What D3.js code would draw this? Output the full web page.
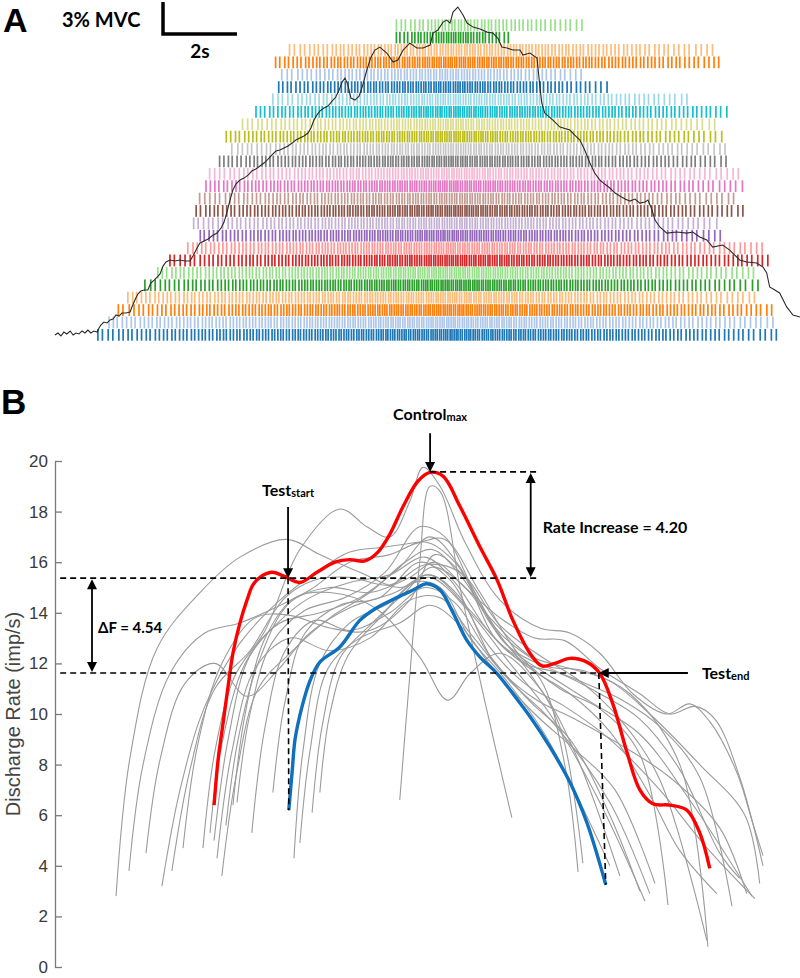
<!DOCTYPE html>
<html><head><meta charset="utf-8">
<script src="https://cdn.jsdelivr.net/npm/d3@7"></script>
<style>body{margin:0;background:#fff} svg{display:block}</style>
</head><body><svg id="c" width="800" height="978"></svg>
<script>
// ---------------- DATA ----------------
// Panel A: motor unit recruitment / derecruitment times (s), bottom row first
const unitOn  = [1.16,1.46,1.70,1.97,2.43,2.78,3.10,3.59,3.91,3.72,3.80,3.91,4.05,4.18,4.45,4.78,4.61,5.07,5.42,5.88,6.02,6.13,5.96,6.34,9.23,9.23];
const unitOff = [19.56,19.48,19.48,19.08,19.02,19.02,19.29,19.29,18.00,18.00,18.62,18.48,18.62,18.48,18.16,18.21,18.11,17.94,18.21,17.13,15.03,14.38,18.00,17.94,12.36,14.38];
// discharge rates (imp/s) at recruitment, at force peak, at derecruitment
const unitRateStart = [7,8,7,8,7,8,7,8,8,7,8,7,8,7,8,7,8,7,8,7,8,7,8,7,9,7];
const unitRatePeak  = [18,17,18,16,18,17,17,16,17,15,17,15,17,15,16,15,17,15,17,15,16,14,17,14,16,12];
const unitRateEnd   = [6,6,7,6,6,6,7,6,6,6,7,6,6,6,7,6,6,6,7,6,6,6,7,6,8,6];
const ratePeakTime = 10.8;
// relative inter-spike-interval variability, read as a repeating pattern
const isiVariability = [1.00,0.86,1.12,0.94,1.21,0.90,1.05,0.83,1.16,0.97,1.08,0.88,1.25,0.95,1.02,0.91,1.14,0.85,1.10,0.99,0.93,1.19,0.87,1.06];
// force trace [time s, %MVC]
const forceTrace = [[0.00,0.09],[0.08,0.28],[0.16,0.00],[0.24,0.37],[0.32,0.19],[0.41,0.47],[0.49,0.09],[0.57,0.28],[0.65,0.19],[0.73,0.47],[0.81,0.28],[0.89,0.56],[0.97,0.28],[1.05,0.47],[1.14,0.37],[1.19,0.75],[1.24,1.03],[1.32,1.31],[1.41,1.22],[1.49,1.50],[1.57,1.59],[1.65,1.97],[1.73,1.87],[1.81,2.15],[1.92,2.15],[2.03,2.25],[2.08,2.72],[2.16,3.37],[2.24,3.93],[2.32,4.21],[2.41,4.31],[2.51,4.31],[2.59,4.96],[2.68,5.24],[2.76,5.52],[2.84,5.81],[2.92,6.55],[3.00,6.93],[3.11,7.12],[3.24,7.02],[3.38,7.12],[3.51,7.02],[3.65,7.02],[3.73,7.49],[3.84,8.24],[3.92,8.71],[4.03,8.90],[4.14,9.08],[4.24,9.36],[4.38,9.64],[4.49,10.11],[4.57,10.67],[4.65,11.61],[4.73,12.73],[4.81,13.67],[4.89,14.23],[5.00,14.61],[5.11,14.79],[5.22,15.07],[5.32,15.45],[5.43,15.64],[5.54,15.92],[5.65,16.20],[5.76,16.57],[5.86,16.95],[5.97,17.32],[6.08,17.42],[6.19,17.60],[6.30,17.79],[6.41,18.07],[6.51,18.35],[6.62,18.54],[6.73,18.73],[6.84,19.01],[6.92,19.48],[7.00,20.22],[7.08,20.69],[7.16,21.07],[7.27,21.35],[7.38,21.54],[7.49,22.00],[7.59,22.38],[7.68,23.03],[7.76,23.78],[7.84,24.16],[7.92,23.50],[8.00,22.28],[8.11,22.10],[8.22,22.47],[8.32,23.50],[8.43,24.91],[8.54,26.12],[8.65,26.78],[8.78,27.06],[8.97,26.50],[9.14,25.66],[9.27,25.84],[9.41,26.78],[9.59,27.43],[9.78,26.97],[9.95,26.97],[10.14,27.25],[10.22,28.37],[10.35,28.65],[10.49,29.40],[10.59,29.59],[10.68,29.31],[10.76,30.34],[10.89,30.81],[11.03,30.06],[11.14,29.31],[11.30,28.93],[11.49,28.75],[11.68,28.46],[11.84,28.37],[11.97,27.90],[12.08,27.06],[12.22,26.97],[12.38,26.78],[12.57,26.78],[12.65,26.31],[12.84,26.50],[13.03,26.03],[13.11,23.31],[13.16,21.82],[13.24,20.88],[13.46,20.22],[13.65,19.57],[13.92,19.29],[14.05,18.82],[14.19,18.35],[14.32,17.42],[14.46,16.20],[14.59,15.26],[14.73,14.61],[14.86,14.23],[15.00,13.86],[15.14,13.39],[15.27,13.11],[15.41,12.83],[15.54,12.64],[15.68,12.83],[15.81,12.45],[15.95,12.55],[16.03,12.73],[16.14,11.80],[16.22,10.86],[16.35,10.21],[16.54,9.64],[16.81,9.74],[17.08,9.64],[17.24,9.74],[17.43,9.27],[17.62,8.99],[17.78,8.33],[18.05,8.52],[18.24,8.05],[18.51,7.12],[18.70,6.93],[18.97,6.84],[19.14,6.46],[19.24,5.90],[19.32,4.59],[19.46,4.31],[19.59,4.03],[19.78,2.72],[19.95,1.97],[20.14,1.78]];

// Panel B: smoothed discharge rates [time s, imp/s]
const controlUnit = [[4.30,6.4],[4.41,8.2],[4.54,9.6],[4.68,11.1],[4.81,12.4],[5.00,13.6],[5.19,14.5],[5.35,15.1],[5.54,15.4],[5.86,15.6],[6.19,15.45],[6.62,15.2],[7.08,15.6],[7.57,16.0],[7.97,16.1],[8.38,16.05],[8.73,16.4],[9.05,17.1],[9.41,18.2],[9.81,19.2],[10.14,19.55],[10.49,19.4],[10.95,18.2],[11.49,16.6],[11.95,15.3],[12.38,13.7],[12.84,12.4],[13.16,11.9],[13.51,12.0],[13.92,12.2],[14.38,12.05],[14.73,11.6],[15.08,10.4],[15.46,8.5],[15.81,7.0],[16.16,6.45],[16.62,6.4],[17.08,6.2],[17.43,5.3],[17.70,3.9]];
const testUnit = [[6.32,6.2],[6.41,7.7],[6.49,9.0],[6.68,10.3],[6.89,11.3],[7.16,12.05],[7.70,12.65],[8.24,13.7],[8.70,14.2],[9.24,14.6],[9.68,14.9],[10.05,15.15],[10.41,14.9],[10.76,14.0],[11.14,12.9],[11.49,12.25],[11.95,11.6],[12.38,10.8],[12.84,9.9],[13.38,8.7],[13.92,7.3],[14.38,5.7],[14.89,3.25]];
const otherUnits = [
 [[1.65,2.8],[2.03,8.3],[2.76,12.6],[3.92,14.8],[5.00,16.2],[6.27,16.9],[7.16,16.3],[8.24,15.6],[9.32,15.0],[10.14,15.4],[11.22,14.0],[12.30,12.0],[13.38,10.0],[14.73,6.5],[15.95,2.6]],
 [[2.00,3.8],[2.38,8.0],[3.11,11.6],[4.05,13.2],[5.00,13.6],[5.95,14.2],[6.89,14.9],[7.97,16.0],[9.05,16.3],[10.00,16.8],[10.81,16.0],[11.76,13.6],[12.84,11.6],[13.65,9.5],[14.27,4.1]],
 [[2.46,4.5],[2.84,8.2],[3.51,11.2],[4.32,12.0],[5.19,10.7],[6.00,11.7],[6.89,13.2],[7.97,14.2],[9.19,14.8],[10.14,15.5],[11.08,14.3],[12.03,12.8],[13.11,11.4],[13.78,8.0],[14.14,3.75]],
 [[2.89,3.2],[3.38,7.0],[4.05,10.3],[5.00,12.8],[6.08,14.5],[7.16,15.7],[7.97,16.4],[8.92,16.6],[9.86,16.8],[10.54,16.9],[11.49,14.8],[12.57,12.3],[13.65,11.0],[14.73,10.2],[15.81,8.4],[16.57,2.45]],
 [[3.16,3.8],[3.65,7.8],[4.32,11.0],[5.27,12.5],[6.22,14.6],[7.03,15.3],[7.97,15.4],[9.05,15.1],[10.00,15.9],[10.95,15.6],[12.03,13.5],[13.11,12.3],[14.19,11.3],[15.27,9.8],[16.35,7.4],[17.62,1.05]],
 [[3.46,4.7],[3.86,8.8],[4.51,12.0],[5.41,13.8],[6.35,13.9],[7.43,13.4],[8.51,13.3],[9.59,14.5],[10.27,16.3],[11.08,15.4],[12.16,12.8],[13.24,11.9],[14.32,11.7],[15.54,10.8],[16.89,8.0],[17.65,0.8]],
 [[4.00,4.7],[4.32,8.5],[4.86,11.5],[5.68,13.3],[6.62,16.5],[7.70,18.1],[8.43,17.4],[9.05,17.0],[9.59,18.4],[9.95,19.75],[10.41,19.0],[11.08,16.8],[12.03,14.5],[13.11,13.4],[13.92,13.2],[14.73,12.4],[15.62,10.8],[16.54,10.0],[17.16,10.4],[17.70,9.7],[18.43,7.7],[18.86,5.7],[19.14,4.4]],
 [[9.32,6.6],[9.59,11.5],[9.86,16.0],[10.14,19.0],[10.41,18.8],[10.95,15.0],[11.62,10.5],[12.35,5.9]],
 [[4.30,5.0],[4.68,9.0],[5.27,12.3],[6.08,13.6],[7.16,14.0],[8.24,14.6],[9.32,15.8],[10.14,17.0],[10.95,15.8],[11.89,13.0],[12.84,11.8],[13.92,10.8],[15.00,9.3],[16.08,6.8],[16.89,4.6],[17.89,2.9]],
 [[4.38,4.3],[4.78,8.5],[5.41,11.8],[6.35,13.0],[7.43,12.5],[8.51,13.0],[9.59,14.5],[10.41,14.6],[11.22,13.2],[12.30,11.3],[13.38,9.8],[15.00,6.5],[16.08,2.9]],
 [[4.51,3.6],[4.89,7.5],[5.49,11.0],[6.35,12.4],[7.43,13.8],[8.51,14.8],[9.46,16.0],[10.19,16.5],[10.95,15.5],[12.03,13.2],[13.11,12.0],[14.19,11.3],[15.27,10.6],[16.35,9.5],[17.43,7.5],[18.30,2.4]],
 [[4.81,6.4],[5.14,10.0],[5.68,13.0],[6.49,14.6],[7.43,14.8],[8.65,14.2],[9.86,12.25],[10.62,10.55],[11.22,11.6],[12.03,12.4],[13.11,11.0],[14.05,8.5],[15.27,3.6]],
 [[4.92,6.5],[5.27,10.0],[5.86,12.8],[6.76,14.1],[7.84,14.6],[8.92,15.6],[9.86,17.4],[10.54,17.0],[11.35,14.8],[12.30,12.6],[13.38,11.5],[14.46,10.5],[15.81,9.2],[17.16,6.6],[18.84,2.8]],
 [[5.32,5.3],[5.68,9.5],[6.22,12.5],[7.03,13.7],[7.97,13.3],[9.05,14.0],[10.00,15.0],[10.81,14.4],[11.76,12.3],[12.84,10.5],[13.92,9.0],[15.00,6.0],[15.81,3.0]],
 [[5.89,6.9],[6.22,10.5],[6.76,13.2],[7.70,14.3],[8.78,14.6],[9.86,16.0],[10.68,15.3],[11.62,12.9],[12.70,11.2],[13.78,10.3],[15.00,9.0],[16.35,7.0],[17.57,4.8],[18.92,2.7]],
 [[6.46,4.3],[6.70,8.5],[7.16,12.0],[7.97,13.6],[9.05,14.4],[10.08,15.5],[10.95,14.6],[11.89,12.0],[12.97,10.6],[14.05,9.8],[15.27,8.8],[16.62,7.5],[17.97,5.5],[18.70,2.9]],
 [[6.62,4.9],[6.89,8.5],[7.38,11.8],[8.24,13.0],[9.32,13.6],[10.14,14.3],[10.95,13.5],[11.89,11.7],[12.97,10.0],[14.05,8.6],[15.14,7.0],[16.22,3.3]],
 [[6.95,6.1],[7.22,9.5],[7.70,12.2],[8.51,13.5],[9.46,14.8],[10.19,15.8],[10.95,15.2],[11.76,13.8],[12.84,12.3],[13.92,11.8],[15.00,11.3],[16.08,10.0],[17.43,8.0],[18.65,6.0],[19.05,3.3]],
 [[7.16,6.9],[7.43,10.0],[7.92,12.3],[8.78,13.8],[9.73,15.2],[10.41,15.0],[11.22,13.0],[12.16,11.4],[13.24,9.2],[15.00,4.0]],
 [[4.62,5.6],[4.95,9.0],[5.49,12.0],[6.35,14.4],[7.43,15.0],[8.51,14.8],[9.59,15.4],[10.27,16.0],[11.08,15.0],[12.03,13.8],[12.97,13.0],[13.78,12.9],[14.73,11.8],[15.81,10.8],[16.62,10.0],[17.30,10.3],[17.84,9.8],[18.51,7.5],[19.14,4.0]],
 [[4.19,5.3],[4.51,8.8],[5.14,12.0],[5.95,13.5],[6.89,14.6],[7.97,15.2],[9.05,15.5],[10.00,16.2],[10.81,15.2],[11.76,13.2],[12.70,12.0],[13.65,11.6],[14.73,10.8],[15.81,9.8],[16.89,7.8],[17.97,4.5],[18.51,3.5]]
];
const rateTicks = [0,2,4,6,8,10,12,14,16,18,20];
// annotation values
const controlMaxT = 10.14, controlMaxRate = 19.57;
const testStartT = 6.30, rateAtTestStart = 15.37;
const testEndT = 14.70, rateAtTestEnd = 11.62;
const rateIncreaseLabel = "Rate Increase = 4.20";
const deltaFLabel = "\u0394F = 4.54";

// ---------------- DRAW ----------------
const svg = d3.select("#c");
const tab20 = ["#1f77b4","#aec7e8","#ff7f0e","#ffbb78","#2ca02c","#98df8a","#d62728","#ff9896","#9467bd","#c5b0d5","#8c564b","#c49c94","#e377c2","#f7b6d2","#7f7f7f","#c7c7c7","#bcbd22","#dbdb8d","#17becf","#9edae5"];
const boldFont = "Lato, 'Open Sans', sans-serif";
const sansFont = "'Liberation Sans', Arial, sans-serif";

const x = d3.scaleLinear().domain([0, 20.14]).range([55, 800]);

// ---- Panel A ----
const rowScale = d3.scaleBand().domain(d3.range(unitOn.length)).range([341, 19]).padding(0);
const yF = d3.scaleLinear().domain([0, 31]).range([336, 5]);

const gA = svg.append("g");
unitOn.forEach((on, i) => {
  const off = unitOff[i];
  const rate = d3.scaleLinear().domain([on, ratePeakTime, off]).range([unitRateStart[i], unitRatePeak[i], unitRateEnd[i]]);
  const spikes = [];
  let phase = 1, dt = 0.002, k = i * 5;
  for (let t = on; t <= off; t += dt) {
    const thr = isiVariability[k % isiVariability.length];
    if (phase >= thr) { spikes.push(t); phase -= thr; k++; }
    phase += rate(t) * dt;
  }
  const y0 = rowScale(i), bw = rowScale.bandwidth();
  gA.append("g").selectAll("line").data(spikes).join("line")
    .attr("x1", d => x(d)).attr("x2", d => x(d))
    .attr("y1", y0 + 0.3).attr("y2", y0 + bw - 0.3)
    .attr("stroke", tab20[i % 20]).attr("stroke-width", 1.7);
});
svg.append("path").datum(forceTrace)
  .attr("d", d3.line().x(d => x(d[0])).y(d => yF(d[1])))
  .attr("fill", "none").attr("stroke", "#2a2a2a").attr("stroke-width", 1.1);

svg.append("text").attr("x", 3).attr("y", 32).text("A")
  .attr("font-family", sansFont).attr("font-weight", "bold").attr("font-size", 34);
svg.append("text").attr("x", 62).attr("y", 27).text("3% MVC")
  .attr("font-family", boldFont).attr("font-weight", "bold").attr("font-size", 20);
const sbX = 163, sbY = 34;
svg.append("path")
  .attr("d", `M${sbX},${sbY - (yF(0) - yF(3))}V${sbY}H${sbX + x(2) - x(0)}`)
  .attr("fill", "none").attr("stroke", "#000").attr("stroke-width", 3.5);
svg.append("text").attr("x", sbX + (x(2) - x(0)) / 2).attr("y", 58).text("2s")
  .attr("text-anchor", "middle")
  .attr("font-family", boldFont).attr("font-weight", "bold").attr("font-size", 19);

// ---- Panel B ----
const yB = d3.scaleLinear().domain([0, 20]).range([967, 461]);
const gB = svg.append("g");
const yAxis = d3.axisLeft(yB).tickValues(rateTicks).tickSize(-7).tickSizeOuter(0).tickPadding(7);
const ax = gB.append("g").attr("transform", "translate(55,0)").call(yAxis);
ax.select(".domain").attr("stroke", "#7a7a7a").attr("stroke-width", 1.3);
ax.selectAll(".tick line").attr("stroke", "#7a7a7a").attr("stroke-width", 1.3);
ax.selectAll(".tick text").attr("font-family", sansFont).attr("font-size", 17).attr("fill", "#3a3a3a");
gB.append("text").attr("transform", `translate(20,${(yB(0) + yB(20)) / 2}) rotate(-90)`)
  .attr("text-anchor", "middle").text("Discharge Rate (imp/s)")
  .attr("font-family", sansFont).attr("font-size", 20).attr("fill", "#444");
svg.append("text").attr("x", 1).attr("y", 414).text("B")
  .attr("font-family", sansFont).attr("font-weight", "bold").attr("font-size", 35);

const lineB = d3.line().x(d => x(d[0])).y(d => yB(d[1])).curve(d3.curveCatmullRom.alpha(0.5));
gB.append("g").selectAll("path").data(otherUnits).join("path")
  .attr("d", lineB).attr("fill", "none").attr("stroke", "#9b9b9b").attr("stroke-width", 1.1);
gB.append("path").datum(testUnit).attr("d", lineB)
  .attr("fill", "none").attr("stroke", "#0f70bd").attr("stroke-width", 3.4);
gB.append("path").datum(controlUnit).attr("d", lineB)
  .attr("fill", "none").attr("stroke", "#ff0000").attr("stroke-width", 3.4);

// annotations
const ann = svg.append("g").attr("stroke", "#000").attr("fill", "none");
function dashed(x1, y1, x2, y2) {
  ann.append("line").attr("x1", x1).attr("y1", y1).attr("x2", x2).attr("y2", y2)
    .attr("stroke-width", 1.6).attr("stroke-dasharray", "6,4");
}
function head(xt, yt, dir) {
  const L = 10, W = 5;
  let p;
  if (dir === "down") p = `M${xt},${yt}L${xt - W},${yt - L}L${xt + W},${yt - L}Z`;
  if (dir === "up") p = `M${xt},${yt}L${xt - W},${yt + L}L${xt + W},${yt + L}Z`;
  if (dir === "left") p = `M${xt},${yt}L${xt + L},${yt - W}L${xt + L},${yt + W}Z`;
  svg.append("path").attr("d", p).attr("fill", "#000");
}
function solid(x1, y1, x2, y2) {
  ann.append("line").attr("x1", x1).attr("y1", y1).attr("x2", x2).attr("y2", y2).attr("stroke-width", 1.8);
}
const xL = x(0.14);
const yMax = yB(controlMaxRate), yS = yB(rateAtTestStart), yE = yB(rateAtTestEnd);
dashed(x(controlMaxT), yMax, x(13.11), yMax);
dashed(xL, yS, x(13.11), yS);
dashed(xL, yE, x(testEndT), yE);
const tFirst = testUnit[0], tLast = testUnit[testUnit.length - 1];
dashed(x(testStartT), yS, x(tFirst[0]), yB(tFirst[1]));
dashed(x(testEndT), yE, x(tLast[0]), yB(tLast[1]));

const yCtrlTop = yB(21.1);
solid(x(controlMaxT), yCtrlTop, x(controlMaxT), yMax - 8);
head(x(controlMaxT), yMax, "down");
const yTsTop = yB(18.18);
solid(x(testStartT), yTsTop, x(testStartT), yS - 8);
head(x(testStartT), yS, "down");
solid(x(17.11), yE, x(testEndT) + 8, yE);
head(x(testEndT), yE, "left");
const xRI = x(12.86);
solid(xRI, yMax + 8, xRI, yS - 8);
head(xRI, yMax + 1, "up"); head(xRI, yS - 1, "down");
const xDF = x(1.0);
solid(xDF, yS + 8, xDF, yE - 8);
head(xDF, yS + 1, "up"); head(xDF, yE - 1, "down");

function subLabel(xp, yp, main, sub, anchor) {
  const t = svg.append("text").attr("x", xp).attr("y", yp).attr("text-anchor", anchor || "start")
    .attr("font-family", boldFont).attr("font-weight", "bold").attr("font-size", 16).attr("fill", "#000");
  t.append("tspan").text(main);
  t.append("tspan").text(sub).attr("font-size", 11).attr("dy", 1);
}
subLabel(x(controlMaxT), yCtrlTop - 13, "Control", "max", "middle");
subLabel(x(testStartT), yTsTop - 11, "Test", "start", "middle");
subLabel(x(17.11) + 14, yE + 6, "Test", "end", "start");
svg.append("text").attr("x", xRI + 12).attr("y", (yMax + yS) / 2 + 8).text(rateIncreaseLabel)
  .attr("font-family", boldFont).attr("font-weight", "bold").attr("font-size", 16);
svg.append("text").attr("x", xDF + 6).attr("y", (yS + yE) / 2 + 7).text(deltaFLabel)
  .attr("font-family", boldFont).attr("font-weight", "bold").attr("font-size", 15);
</script></body></html>
